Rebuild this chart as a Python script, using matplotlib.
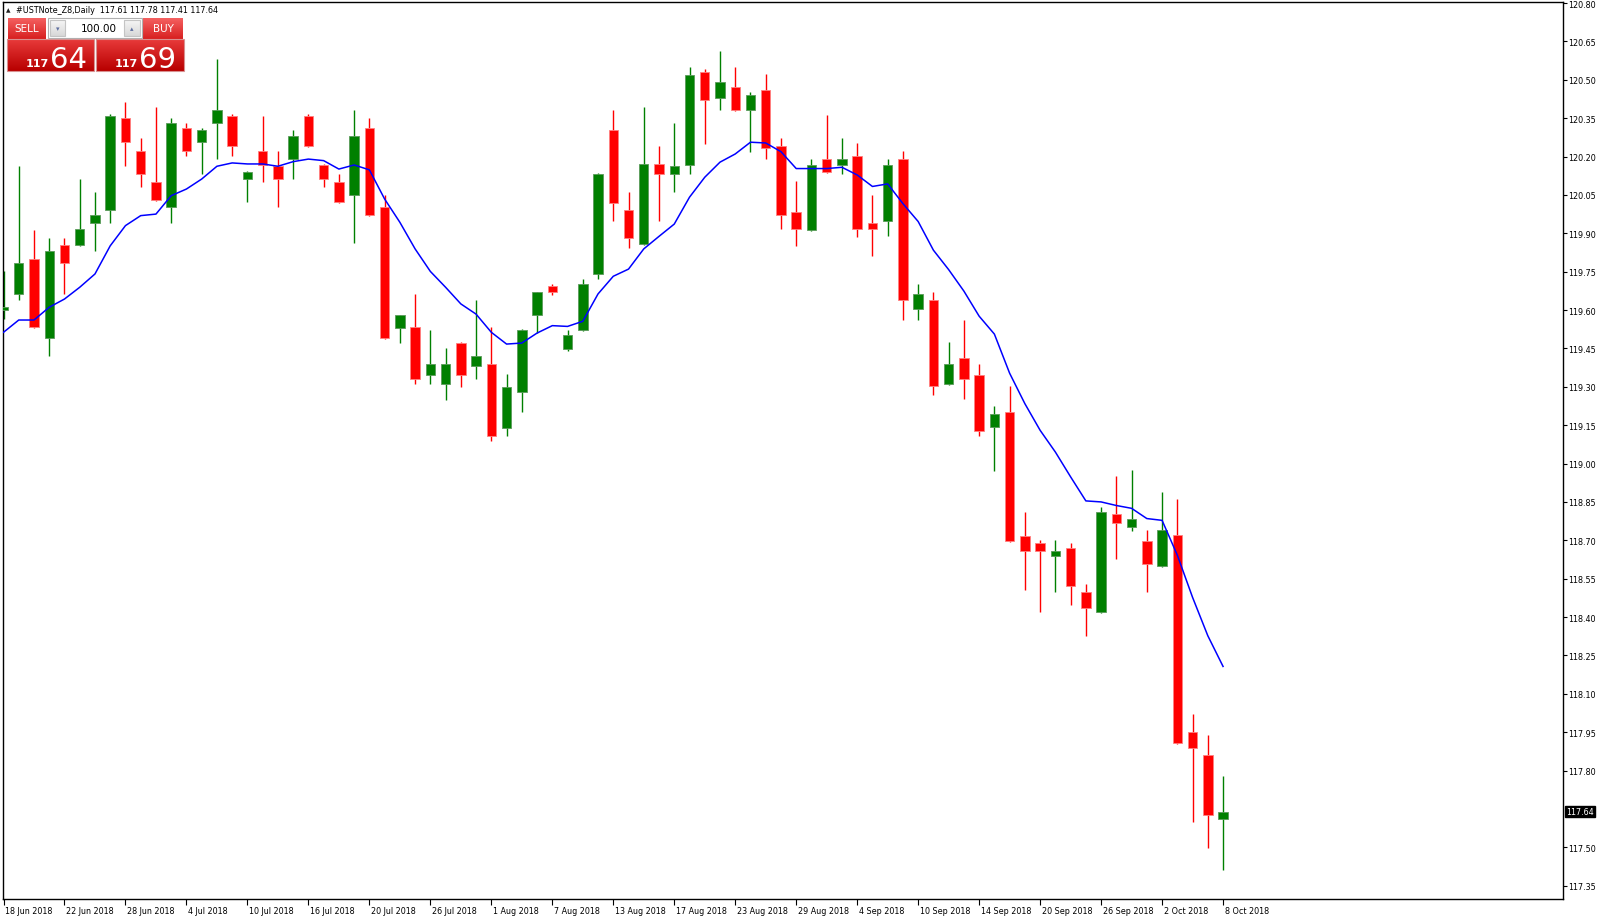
"""MT4-style daily candlestick chart of #USTNote_Z8 with a moving average."""

import numpy as np
import matplotlib
matplotlib.use("Agg")
import matplotlib.pyplot as plt
import matplotlib.colors as mcolors
from matplotlib.patches import Rectangle
from matplotlib.transforms import ScaledTranslation, blended_transform_factory

# ── Data ────────────────────────────────────────────────────────
symbol = "#USTNote_Z8,Daily"
last_ohlc = "117.61 117.78 117.41 117.64"
bid_big, ask_big, price_handle = "64", "69", "117"
lot_size = "100.00"
last_price = 117.64

opens = [119.601, 119.663, 119.799, 119.491, 119.853, 119.853, 119.941, 119.990, 120.352, 120.222,
         120.102, 120.002, 120.312, 120.256, 120.330, 120.360, 120.111, 120.222, 120.162, 120.190,
         120.360, 120.168, 120.102, 120.050, 120.312, 120.003, 119.531, 119.532, 119.347, 119.311,
         119.472, 119.381, 119.390, 119.139, 119.281, 119.579, 119.693, 119.449, 119.521, 119.740,
         120.302, 119.991, 119.859, 120.171, 120.132, 120.168, 120.532, 120.430, 120.472, 120.382,
         120.460, 120.241, 119.983, 119.911, 120.190, 120.168, 120.203, 119.942, 119.949, 120.192,
         119.603, 119.639, 119.311, 119.413, 119.348, 119.141, 119.200, 118.718, 118.689, 118.640,
         118.670, 118.499, 118.418, 118.801, 118.751, 118.699, 118.598, 118.719, 117.950, 117.862,
         117.610]
highs = [119.752, 120.162, 119.913, 119.882, 119.882, 120.111, 120.060, 120.365, 120.412, 120.271,
         120.393, 120.352, 120.331, 120.312, 120.580, 120.365, 120.142, 120.360, 120.222, 120.302,
         120.365, 120.170, 120.132, 120.382, 120.352, 120.050, 119.582, 119.663, 119.522, 119.451,
         119.475, 119.640, 119.532, 119.350, 119.524, 119.672, 119.702, 119.522, 119.722, 120.136,
         120.382, 120.060, 120.394, 120.241, 120.330, 120.549, 120.543, 120.614, 120.550, 120.453,
         120.522, 120.271, 120.103, 120.190, 120.361, 120.271, 120.252, 120.050, 120.190, 120.221,
         119.700, 119.671, 119.474, 119.561, 119.391, 119.223, 119.302, 118.812, 118.700, 118.700,
         118.689, 118.529, 118.830, 118.951, 118.975, 118.740, 118.890, 118.861, 118.020, 117.939,
         117.780]
lows = [119.565, 119.640, 119.530, 119.419, 119.663, 119.850, 119.830, 119.941, 120.162, 120.080,
        120.028, 119.941, 120.202, 120.132, 120.190, 120.202, 120.021, 120.102, 120.002, 120.111,
        120.236, 120.080, 120.018, 119.861, 119.968, 119.488, 119.471, 119.311, 119.311, 119.249,
        119.300, 119.329, 119.089, 119.109, 119.200, 119.510, 119.660, 119.441, 119.518, 119.722,
        119.949, 119.841, 119.856, 119.949, 120.060, 120.132, 120.250, 120.381, 120.379, 120.219,
        120.190, 119.917, 119.852, 119.908, 120.137, 120.130, 119.885, 119.812, 119.890, 119.561,
        119.561, 119.269, 119.308, 119.251, 119.108, 118.971, 118.695, 118.505, 118.418, 118.497,
        118.448, 118.327, 118.415, 118.627, 118.738, 118.497, 118.595, 117.904, 117.598, 117.497,
        117.410]
closes = [119.611, 119.783, 119.532, 119.830, 119.783, 119.917, 119.973, 120.360, 120.256, 120.132,
          120.031, 120.331, 120.222, 120.302, 120.382, 120.240, 120.140, 120.168, 120.111, 120.282,
          120.240, 120.111, 120.021, 120.282, 119.971, 119.491, 119.579, 119.329, 119.390, 119.390,
          119.347, 119.420, 119.109, 119.300, 119.521, 119.670, 119.669, 119.502, 119.701, 120.133,
          120.020, 119.880, 120.171, 120.132, 120.163, 120.520, 120.422, 120.491, 120.382, 120.441,
          120.233, 119.971, 119.916, 120.168, 120.140, 120.190, 119.916, 119.916, 120.168, 119.639,
          119.663, 119.303, 119.391, 119.329, 119.128, 119.192, 118.698, 118.658, 118.658, 118.659,
          118.520, 118.436, 118.811, 118.769, 118.783, 118.608, 118.740, 117.907, 117.889, 117.627,
          117.640]
moving_avg = [119.513, 119.561, 119.561, 119.611, 119.643, 119.689, 119.741, 119.851, 119.930, 119.969,
              119.975, 120.047, 120.073, 120.112, 120.162, 120.175, 120.171, 120.171, 120.162, 120.180,
              120.190, 120.184, 120.151, 120.167, 120.148, 120.034, 119.943, 119.839, 119.751, 119.689,
              119.624, 119.584, 119.513, 119.467, 119.471, 119.510, 119.539, 119.536, 119.556, 119.663,
              119.732, 119.760, 119.839, 119.888, 119.936, 120.041, 120.119, 120.178, 120.210, 120.256,
              120.253, 120.219, 120.153, 120.153, 120.153, 120.158, 120.128, 120.083, 120.093, 120.016,
              119.946, 119.834, 119.758, 119.674, 119.576, 119.506, 119.353, 119.234, 119.130, 119.045,
              118.948, 118.854, 118.850, 118.836, 118.825, 118.785, 118.778, 118.642, 118.477, 118.327,
              118.207]

date_labels = ["18 Jun 2018", "22 Jun 2018", "28 Jun 2018", "4 Jul 2018", "10 Jul 2018",
               "16 Jul 2018", "20 Jul 2018", "26 Jul 2018", "1 Aug 2018", "7 Aug 2018",
               "13 Aug 2018", "17 Aug 2018", "23 Aug 2018", "29 Aug 2018", "4 Sep 2018",
               "10 Sep 2018", "14 Sep 2018", "20 Sep 2018", "26 Sep 2018", "2 Oct 2018",
               "8 Oct 2018"]
label_step = 4
price_ticks = [120.80, 120.65, 120.50, 120.35, 120.20, 120.05, 119.90, 119.75, 119.60, 119.45,
               119.30, 119.15, 119.00, 118.85, 118.70, 118.55, 118.40, 118.25, 118.10, 117.95,
               117.80, 117.50, 117.35]

# ── Figure / main axes ──────────────────────────────────────────
W, H = 1600, 920
plt.rcParams["font.family"] = ["DejaVu Sans"]
fig = plt.figure(figsize=(W / 100, H / 100), dpi=100, facecolor="white")
ax = fig.add_axes([2.5 / W, 20 / H, (1563 - 2.5) / W, 897 / H])

UP, DOWN = "#008000", "#ff0000"
o, h, l, c = map(np.asarray, (opens, highs, lows, closes))
x = np.arange(len(o))
up = c >= o
cols = np.where(up, UP, DOWN)
edge = np.where(up, "#5a9a5a", "#ff8080")

ax.vlines(x, l, h, colors=cols, linewidth=1.0, zorder=2)
bottoms = np.minimum(o, c)
heights = np.maximum(np.abs(c - o), 0.004)
ax.bar(x, heights, bottom=bottoms, width=0.62, color=cols, edgecolor=edge,
       linewidth=0.6, zorder=3)
ax.plot(x, moving_avg, color="#0000ff", linewidth=1.1, zorder=4)

ax.set_xlim(-0.066, 102.3)
ax.set_ylim(117.298, 120.804)

for sp in ax.spines.values():
    sp.set_color("black")
    sp.set_linewidth(1.0)

# right price scale
ax.yaxis.tick_right()
ax.set_yticks(price_ticks)
ax.set_yticklabels([f"{p:.2f}" for p in price_ticks])
ax.tick_params(axis="y", direction="out", length=3, width=0.8, pad=1,
               labelsize=5.8, colors="black")

# bottom time scale
ax.set_xticks(x[::label_step])
ax.set_xticklabels(date_labels, ha="left")
ax.tick_params(axis="x", direction="out", length=4, width=0.8, pad=1,
               labelsize=5.8, colors="black")
shift = ScaledTranslation(1.5 / 100, 0, fig.dpi_scale_trans)
for lbl in ax.get_xticklabels():
    lbl.set_transform(lbl.get_transform() + shift)

# current price tag
bt = blended_transform_factory(ax.transAxes, ax.transData)
ax.text(1.0 + 3 / 1560, last_price, f"{last_price:.2f}", transform=bt, ha="left",
        va="center", fontsize=5.8, color="white", zorder=6, clip_on=False,
        bbox=dict(boxstyle="square,pad=0.18", fc="black", ec="black"))

# ── Overlay: header + one-click trading panel (pixel coords) ────
ov = fig.add_axes([0, 0, 1, 1], zorder=10)
ov.set_autoscale_on(False)
ov.set_xlim(0, W)
ov.set_ylim(H, 0)
ov.axis("off")


def grad_box(x0, y0, x1, y1, top, bottom, ec=None):
    g = np.linspace(0, 1, 32)[:, None, None]
    c0 = np.array(mcolors.to_rgb(top))
    c1 = np.array(mcolors.to_rgb(bottom))
    img = c0 + (c1 - c0) * g
    ov.imshow(img, extent=(x0, x1, y1, y0), aspect="auto", interpolation="bilinear",
              zorder=2)
    if ec:
        ov.add_patch(Rectangle((x0, y0), x1 - x0, y1 - y0, fill=False, ec=ec, lw=0.8,
                               zorder=3))


ov.text(6, 10.5, "▲", fontsize=4.2, va="center", ha="left", color="#202020")
ov.text(16, 10.5, f"{symbol}  {last_ohlc}", fontsize=5.8, va="center", ha="left",
        color="black")

# SELL side
grad_box(7, 40, 94, 72, "#e83a3a", "#b80000", ec="#d89090")
grad_box(8, 19, 46, 39.5, "#f46060", "#d82020")
ov.text(27, 29.5, "SELL", fontsize=7.5, color="white", ha="center", va="center")
ov.text(26, 67, price_handle, fontsize=8, fontweight="bold", color="white",
        ha="left", va="baseline")
ov.text(50, 68, bid_big, fontsize=21, color="white", ha="left", va="baseline")

# BUY side
grad_box(96, 40, 184, 72, "#e83a3a", "#b80000", ec="#d89090")
grad_box(143, 19, 183, 39.5, "#f46060", "#d82020")
ov.text(163, 29.5, "BUY", fontsize=7.5, color="white", ha="center", va="center")
ov.text(115, 67, price_handle, fontsize=8, fontweight="bold", color="white",
        ha="left", va="baseline")
ov.text(139, 68, ask_big, fontsize=21, color="white", ha="left", va="baseline")

# lot spin box
ov.add_patch(Rectangle((48, 19), 94, 20, fc="white", ec="#b0b0b0", lw=0.8, zorder=2))
grad_box(50, 21, 65, 37, "#f6f6f6", "#d8d8d8", ec="#c4c4c4")
grad_box(124, 21, 140, 37, "#f6f6f6", "#d8d8d8", ec="#c4c4c4")
ov.text(57.5, 29, "▾", fontsize=5, color="#6070a0", ha="center", va="center", zorder=4)
ov.text(132, 29, "▴", fontsize=5, color="#6070a0", ha="center", va="center", zorder=4)
ov.text(117, 29, lot_size, fontsize=7.5, color="black", ha="right", va="center", zorder=4)

fig.savefig("out.png", dpi=100, facecolor="white")
